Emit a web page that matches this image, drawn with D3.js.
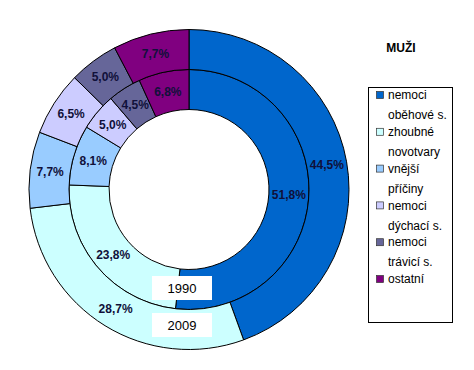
<!DOCTYPE html>
<html>
<head>
<meta charset="utf-8">
<script src="https://cdn.jsdelivr.net/npm/d3@7"></script>
<style>
  body { margin: 0; background: #fff; }
  text { font-family: "Liberation Sans", Arial, sans-serif; }
</style>
</head>
<body>
<div id="chart"></div>
<script>
// categories (legend lines) and the two series, 1990 = inner ring, 2009 = outer ring
const categories = ["nemoci oběhové s.", "zhoubné novotvary", "vnější příčiny", "nemoci dýchací s.", "nemoci trávicí s.", "ostatní"];
const legendLines = [["nemoci", "oběhové s."], ["zhoubné", "novotvary"], ["vnější", "příčiny"], ["nemoci", "dýchací s."], ["nemoci", "trávicí s."], ["ostatní"]];
const values1990 = [51.8, 23.8, 8.1, 5.0, 4.5, 6.8];
const values2009 = [44.5, 28.7, 7.7, 6.5, 5.0, 7.7];
const years = ["1990", "2009"];
const colors = ["#0066CC", "#CCFFFF", "#99CCFF", "#CCCCFF", "#666699", "#800080"];

const width = 474, height = 370;
const cx = 189, cy = 189.5;
const rHole = 80, rMid = 120, rOuter = 160;

let svg = d3.select("#chart").append("svg")
    .attr("width", width)
    .attr("height", height);

let color = d3.scaleOrdinal().domain(categories).range(colors);
let fmt = v => d3.format(".1f")(v).replace(".", ",") + "%";

let pie = d3.pie().sort(null).value(d => d.value);

function ring(values, r0, r1) {
    let data = pie(values.map((v, i) => ({cat: categories[i], value: v})));
    let arc = d3.arc().innerRadius(r0).outerRadius(r1);
    let g = svg.append("g").attr("transform", `translate(${cx},${cy})`);
    g.selectAll("path")
        .data(data)
        .enter().append("path")
        .attr("d", arc)
        .attr("fill", d => color(d.data.cat))
        .attr("stroke", "#000")
        .attr("stroke-width", 1);
    g.selectAll("text")
        .data(data)
        .enter().append("text")
        .attr("x", d => arc.centroid(d)[0])
        .attr("y", d => arc.centroid(d)[1])
        .attr("dy", "0.35em")
        .attr("text-anchor", "middle")
        .attr("font-size", 12)
        .attr("font-weight", "bold")
        .attr("fill", "#10103a")
        .text(d => fmt(d.data.value));
}

ring(values1990, rHole, rMid);
ring(values2009, rMid, rOuter);

// year labels in white boxes
let yearBoxes = [{t: years[0], y: 276}, {t: years[1], y: 313}];
yearBoxes.forEach(b => {
    svg.append("rect")
        .attr("x", 152).attr("y", b.y)
        .attr("width", 60).attr("height", 24)
        .attr("fill", "#fff");
    svg.append("text")
        .attr("x", 182).attr("y", b.y + 12)
        .attr("dy", "0.35em")
        .attr("text-anchor", "middle")
        .attr("font-size", 13)
        .attr("fill", "#000")
        .text(b.t);
});

// title
svg.append("text")
    .attr("x", 401).attr("y", 52)
    .attr("text-anchor", "middle")
    .attr("font-size", 12)
    .attr("font-weight", "bold")
    .text("MUŽI");

// legend
svg.append("rect")
    .attr("x", 368.5).attr("y", 87.5)
    .attr("width", 84).attr("height", 235)
    .attr("fill", "#fff")
    .attr("stroke", "#000")
    .attr("stroke-width", 1);

let leg = svg.selectAll(".leg")
    .data(categories)
    .enter().append("g")
    .attr("class", "leg")
    .attr("transform", (d, i) => `translate(376,${95 + i * 36.8})`);

leg.append("rect")
    .attr("x", 0.5).attr("y", -3.5)
    .attr("width", 7).attr("height", 7)
    .attr("fill", d => color(d))
    .attr("stroke", "#333")
    .attr("stroke-width", 0.7);

leg.each(function(d, i) {
    let t = d3.select(this).append("text")
        .attr("x", 12)
        .attr("font-size", 12)
        .attr("fill", "#000");
    legendLines[i].forEach((line, j) => {
        t.append("tspan")
            .attr("x", 12)
            .attr("y", j * 20)
            .attr("dy", "0.35em")
            .text(line);
    });
});
</script>
</body>
</html>
